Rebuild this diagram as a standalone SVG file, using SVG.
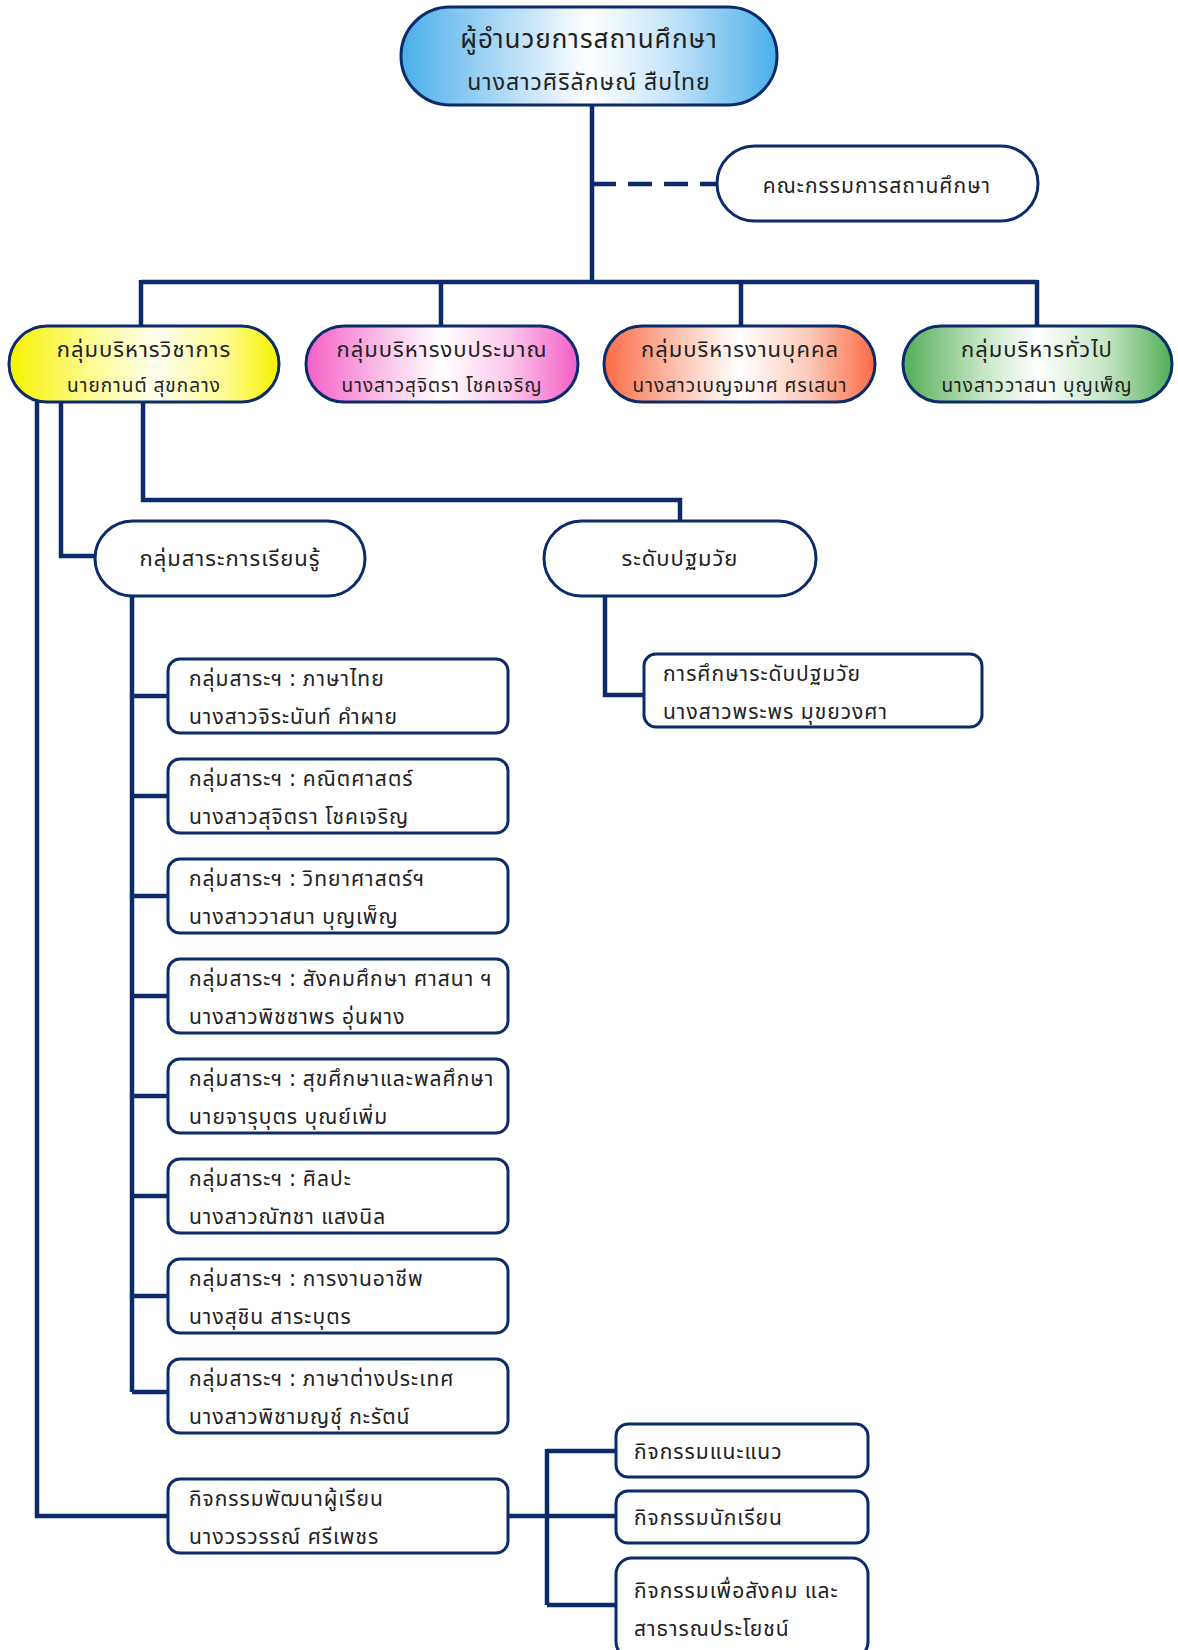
<svg xmlns="http://www.w3.org/2000/svg" width="1178" height="1650" viewBox="0 0 1178 1650">
<defs>
<style>
.t{font-family:"Noto Sans Thai","Tahoma","DejaVu Sans",sans-serif;fill:#222;letter-spacing:1px;}
.b{font-size:21px;}
.node{stroke:#0b2b6b;stroke-width:3;}
.box{fill:#fff;stroke:#0b2b6b;stroke-width:3;}
.c{fill:none;stroke:#0b2b6b;stroke-width:4.5;}
</style>
<linearGradient id="gTop" x1="0" y1="0" x2="1" y2="0">
<stop offset="0" stop-color="#4aaeea"/><stop offset="0.3" stop-color="#b9dff8"/><stop offset="0.5" stop-color="#ffffff"/><stop offset="0.72" stop-color="#c4e4f9"/><stop offset="1" stop-color="#4aaeea"/>
</linearGradient>
<linearGradient id="gY" x1="0" y1="0" x2="1" y2="0">
<stop offset="0" stop-color="#f7f200"/><stop offset="0.3" stop-color="#fdfb90"/><stop offset="0.55" stop-color="#fffff0"/><stop offset="0.8" stop-color="#fdfb90"/><stop offset="1" stop-color="#f7f200"/>
</linearGradient>
<linearGradient id="gP" x1="0" y1="0" x2="1" y2="0">
<stop offset="0" stop-color="#f45ec6"/><stop offset="0.3" stop-color="#fcc6eb"/><stop offset="0.5" stop-color="#ffffff"/><stop offset="0.75" stop-color="#fcc6eb"/><stop offset="1" stop-color="#f45ec6"/>
</linearGradient>
<linearGradient id="gO" x1="0" y1="0" x2="1" y2="0">
<stop offset="0" stop-color="#fb6a44"/><stop offset="0.3" stop-color="#fdcbbb"/><stop offset="0.5" stop-color="#ffffff"/><stop offset="0.75" stop-color="#fdcbbb"/><stop offset="1" stop-color="#fb6a44"/>
</linearGradient>
<linearGradient id="gG" x1="0" y1="0" x2="1" y2="0">
<stop offset="0" stop-color="#52ae57"/><stop offset="0.3" stop-color="#c6e6c5"/><stop offset="0.5" stop-color="#ffffff"/><stop offset="0.75" stop-color="#c6e6c5"/><stop offset="1" stop-color="#52ae57"/>
</linearGradient>
</defs>

<g id="connectors">
<path class="c" d="M592 105 V282"/>
<path class="c" d="M592 184 H716" stroke-dasharray="24 12"/>
<path class="c" d="M141 282 H1037 M141 280 V326 M441 280 V326 M741 280 V326 M1037 280 V326"/>
<path class="c" d="M143 402 V500 H680 V521"/>
<path class="c" d="M61 402 V556 H95"/>
<path class="c" d="M37 402 V1516 H168"/>
<path class="c" d="M132 596 V1392"/>
<path class="c" d="M132 696 H168 M132 796 H168 M132 896 H168 M132 996 H168 M132 1096 H168 M132 1196 H168 M132 1296 H168 M132 1392 H168"/>
<path class="c" d="M605 596 V695 H644"/>
<path class="c" d="M507 1516 H616 M547 1449 V1605 M547 1451 H616 M547 1605 H616"/>
</g>

<g id="n-director">
<rect class="node" x="401" y="7" width="376" height="98" rx="49" fill="url(#gTop)"/>
<text class="t" x="589" y="48" font-size="26" text-anchor="middle">ผู้อำนวยการสถานศึกษา</text>
<text class="t" x="589" y="90" font-size="23" text-anchor="middle">นางสาวศิริลักษณ์ สืบไทย</text>
</g>

<g id="n-committee">
<rect class="box" x="717" y="146" width="321" height="75" rx="37.5"/>
<text class="t" x="877" y="193" font-size="21" text-anchor="middle">คณะกรรมการสถานศึกษา</text>
</g>

<g id="n-academic">
<rect class="node" x="9" y="326" width="270" height="76" rx="38" fill="url(#gY)"/>
<text class="t" x="144" y="357" font-size="22" text-anchor="middle">กลุ่มบริหารวิชาการ</text>
<text class="t" x="144" y="392" font-size="19" text-anchor="middle">นายกานต์ สุขกลาง</text>
</g>
<g id="n-budget">
<rect class="node" x="306" y="326" width="272" height="76" rx="38" fill="url(#gP)"/>
<text class="t" x="442" y="357" font-size="22" text-anchor="middle">กลุ่มบริหารงบประมาณ</text>
<text class="t" x="442" y="392" font-size="19" text-anchor="middle">นางสาวสุจิตรา โชคเจริญ</text>
</g>
<g id="n-personnel">
<rect class="node" x="604" y="326" width="271" height="76" rx="38" fill="url(#gO)"/>
<text class="t" x="740" y="357" font-size="22" text-anchor="middle">กลุ่มบริหารงานบุคคล</text>
<text class="t" x="740" y="392" font-size="19" text-anchor="middle">นางสาวเบญจมาศ ศรเสนา</text>
</g>
<g id="n-general">
<rect class="node" x="903" y="326" width="269" height="76" rx="38" fill="url(#gG)"/>
<text class="t" x="1037" y="357" font-size="22" text-anchor="middle">กลุ่มบริหารทั่วไป</text>
<text class="t" x="1037" y="392" font-size="19" text-anchor="middle">นางสาววาสนา บุญเพ็ญ</text>
</g>

<g id="n-learning">
<rect class="box" x="95" y="521" width="270" height="75" rx="37.5"/>
<text class="t" x="230" y="566" font-size="22" text-anchor="middle">กลุ่มสาระการเรียนรู้</text>
</g>
<g id="n-early">
<rect class="box" x="544" y="521" width="272" height="75" rx="37.5"/>
<text class="t" x="680" y="566" font-size="22" text-anchor="middle">ระดับปฐมวัย</text>
</g>
<g id="n-early-ed">
<rect class="box" x="644" y="654" width="338" height="73" rx="12"/>
<text class="t b" x="663" y="681">การศึกษาระดับปฐมวัย</text>
<text class="t b" x="663" y="719">นางสาวพระพร มุขยวงศา</text>
</g>

<g id="n-s1">
<rect class="box" x="168" y="659" width="340" height="74" rx="12"/>
<text class="t b" x="189" y="686">กลุ่มสาระฯ : ภาษาไทย</text>
<text class="t b" x="189" y="724">นางสาวจิระนันท์ คำผาย</text>
</g>
<g id="n-s2">
<rect class="box" x="168" y="759" width="340" height="74" rx="12"/>
<text class="t b" x="189" y="786">กลุ่มสาระฯ : คณิตศาสตร์</text>
<text class="t b" x="189" y="824">นางสาวสุจิตรา โชคเจริญ</text>
</g>
<g id="n-s3">
<rect class="box" x="168" y="859" width="340" height="74" rx="12"/>
<text class="t b" x="189" y="886">กลุ่มสาระฯ : วิทยาศาสตร์ฯ</text>
<text class="t b" x="189" y="924">นางสาววาสนา บุญเพ็ญ</text>
</g>
<g id="n-s4">
<rect class="box" x="168" y="959" width="340" height="74" rx="12"/>
<text class="t b" x="189" y="986">กลุ่มสาระฯ : สังคมศึกษา ศาสนา ฯ</text>
<text class="t b" x="189" y="1024">นางสาวพิชชาพร อุ่นผาง</text>
</g>
<g id="n-s5">
<rect class="box" x="168" y="1059" width="340" height="74" rx="12"/>
<text class="t b" x="189" y="1086">กลุ่มสาระฯ : สุขศึกษาและพลศึกษา</text>
<text class="t b" x="189" y="1124">นายจารุบุตร บุณย์เพิ่ม</text>
</g>
<g id="n-s6">
<rect class="box" x="168" y="1159" width="340" height="74" rx="12"/>
<text class="t b" x="189" y="1186">กลุ่มสาระฯ : ศิลปะ</text>
<text class="t b" x="189" y="1224">นางสาวณัฑชา แสงนิล</text>
</g>
<g id="n-s7">
<rect class="box" x="168" y="1259" width="340" height="74" rx="12"/>
<text class="t b" x="189" y="1286">กลุ่มสาระฯ : การงานอาชีพ</text>
<text class="t b" x="189" y="1324">นางสุชิน สาระบุตร</text>
</g>
<g id="n-s8">
<rect class="box" x="168" y="1359" width="340" height="74" rx="12"/>
<text class="t b" x="189" y="1386">กลุ่มสาระฯ : ภาษาต่างประเทศ</text>
<text class="t b" x="189" y="1424">นางสาวพิชามญชุ์ กะรัตน์</text>
</g>

<g id="n-dev">
<rect class="box" x="168" y="1479" width="340" height="74" rx="12"/>
<text class="t b" x="189" y="1506">กิจกรรมพัฒนาผู้เรียน</text>
<text class="t b" x="189" y="1544">นางวรวรรณ์ ศรีเพชร</text>
</g>
<g id="n-guidance">
<rect class="box" x="616" y="1424" width="252" height="53" rx="12"/>
<text class="t b" x="634" y="1459">กิจกรรมแนะแนว</text>
</g>
<g id="n-student">
<rect class="box" x="616" y="1491" width="252" height="52" rx="12"/>
<text class="t b" x="634" y="1525">กิจกรรมนักเรียน</text>
</g>
<g id="n-social">
<rect class="box" x="616" y="1558" width="252" height="100" rx="16"/>
<text class="t b" x="634" y="1598">กิจกรรมเพื่อสังคม และ</text>
<text class="t b" x="634" y="1636">สาธารณประโยชน์</text>
</g>
</svg>
